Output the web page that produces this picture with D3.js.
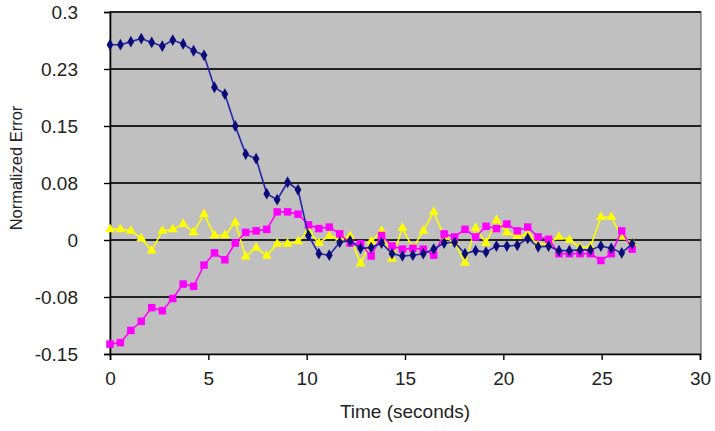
<!DOCTYPE html>
<html>
<head>
<meta charset="utf-8">
<script src="https://cdn.jsdelivr.net/npm/d3@7"></script>
<style>
  body { margin: 0; background: #fff; }
  svg { display: block; font-family: "Liberation Sans", Arial, Helvetica, sans-serif; }
</style>
</head>
<body>
<svg id="chart" width="715" height="431"></svg>
<script>
// sample times (seconds)
var times = [0, 0.53, 1.06, 1.59, 2.12, 2.66, 3.19, 3.72, 4.25, 4.78,
  5.31, 5.84, 6.37, 6.90, 7.43, 7.97, 8.50, 9.03, 9.56, 10.09,
  10.62, 11.15, 11.68, 12.21, 12.74, 13.28, 13.81, 14.34, 14.87, 15.40,
  15.93, 16.46, 16.99, 17.52, 18.05, 18.59, 19.12, 19.65, 20.18, 20.71,
  21.24, 21.77, 22.30, 22.83, 23.36, 23.90, 24.43, 24.96, 25.49, 26.02, 26.55];

// blue series (diamond markers)
var blueErr = [0.257, 0.257, 0.261, 0.265, 0.260, 0.255, 0.263, 0.258, 0.249, 0.243,
  0.201, 0.192, 0.150, 0.113, 0.107, 0.061, 0.053, 0.076, 0.066, 0.006,
  -0.018, -0.020, -0.003, -0.001, -0.011, -0.010, -0.004, -0.018, -0.021, -0.020,
  -0.018, -0.012, -0.004, -0.003, -0.018, -0.014, -0.016, -0.008, -0.008, -0.007,
  0.002, -0.009, -0.008, -0.014, -0.014, -0.013, -0.013, -0.008, -0.011, -0.017, -0.005];

// magenta series (square markers)
var pinkErr = [-0.137, -0.135, -0.119, -0.107, -0.089, -0.093, -0.077, -0.058, -0.061, -0.033,
  -0.017, -0.026, -0.004, 0.010, 0.012, 0.014, 0.037, 0.037, 0.034, 0.020,
  0.015, 0.017, 0.008, -0.004, -0.005, -0.021, 0.006, -0.008, -0.012, -0.011,
  -0.012, -0.020, 0.008, 0.004, 0.014, 0.004, 0.018, 0.015, 0.021, 0.012,
  0.017, 0.004, 0.001, -0.018, -0.018, -0.018, -0.018, -0.027, -0.018, 0.012, -0.012];

// yellow series (triangle markers)
var yellowErr = [0.014, 0.014, 0.012, 0.002, -0.014, 0.012, 0.014, 0.021, 0.010, 0.034,
  0.006, 0.006, 0.023, -0.022, -0.010, -0.021, -0.005, -0.005, -0.002, 0.012,
  -0.004, 0.005, 0.003, 0.005, -0.031, -0.002, 0.012, -0.025, 0.016, -0.011,
  0.012, 0.037, 0.004, -0.003, -0.030, 0.016, -0.004, 0.026, 0.010, 0.005,
  0.008, -0.006, -0.004, 0.004, 0.000, -0.010, -0.009, 0.030, 0.030, 0.004, -0.004];

var yTicks = [-0.15, -0.075, 0, 0.075, 0.15, 0.225, 0.3];
var yTickLabels = ["-0.15", "-0.08", "0", "0.08", "0.15", "0.23", "0.3"];
var xTicks = [0, 5, 10, 15, 20, 25, 30];

var svg = d3.select("#chart");
var plot = { left: 110, right: 701, top: 12, bottom: 354 };

var x = d3.scaleLinear().domain([0, 30]).range([plot.left, plot.right - 1]);
var y = d3.scaleLinear().domain([-0.15, 0.3]).range([plot.bottom, plot.top]);

// plot background
svg.append("rect")
    .attr("x", plot.left).attr("y", plot.top)
    .attr("width", plot.right - plot.left).attr("height", plot.bottom - plot.top)
    .attr("fill", "#c0c0c0")
    .attr("stroke", "#555").attr("stroke-width", 1);

// horizontal gridlines
svg.append("g").selectAll("line")
    .data(yTicks.slice(1))
    .join("line")
    .attr("x1", plot.left).attr("x2", plot.right)
    .attr("y1", function(d){ return y(d); })
    .attr("y2", function(d){ return y(d); })
    .attr("stroke", "#222").attr("stroke-width", 1.8);

// y axis
var yAxis = d3.axisLeft(y).tickValues(yTicks).tickSize(6).tickPadding(26)
    .tickFormat(function(d, i){ return yTickLabels[i]; });
var gy = svg.append("g").attr("transform", "translate(" + plot.left + ",0)").call(yAxis);
gy.select(".domain").attr("stroke", "#000").attr("stroke-width", 1.6);
gy.selectAll(".tick line").attr("stroke", "#000").attr("stroke-width", 1.4);
gy.selectAll("text").attr("font-size", 19).attr("fill", "#222");

// x axis
var xAxis = d3.axisBottom(x).tickValues(xTicks).tickSize(6).tickPadding(12);
var gx = svg.append("g").attr("transform", "translate(0," + plot.bottom + ")").call(xAxis);
gx.select(".domain").attr("stroke", "#000").attr("stroke-width", 1.6);
gx.selectAll(".tick line").attr("stroke", "#000").attr("stroke-width", 1.4);
gx.selectAll("text").attr("font-size", 19).attr("fill", "#222");

// axis titles
svg.append("text")
    .attr("x", x(15)).attr("y", 418)
    .attr("text-anchor", "middle").attr("font-size", 19).attr("fill", "#222")
    .text("Time (seconds)");
svg.append("text")
    .attr("transform", "translate(22,168) rotate(-90)")
    .attr("text-anchor", "middle").attr("font-size", 16.5).attr("fill", "#222")
    .text("Normalized Error");

// series
function drawSeries(values, lineColor, markColor, shape, size){
    var pts = values.map(function(v, i){ return [times[i], v]; });
    var line = d3.line()
        .x(function(d){ return x(d[0]); })
        .y(function(d){ return y(d[1]); });
    var g = svg.append("g");
    g.append("path")
        .datum(pts)
        .attr("d", line)
        .attr("fill", "none")
        .attr("stroke", lineColor)
        .attr("stroke-width", 1.6);
    g.selectAll("path.mark")
        .data(pts)
        .join("path")
        .attr("class", "mark")
        .attr("d", d3.symbol().type(shape).size(size))
        .attr("transform", function(d){ return "translate(" + x(d[0]) + "," + y(d[1]) + ")"; })
        .attr("fill", markColor);
}

drawSeries(yellowErr, "#ffff00", "#ffff00", d3.symbolTriangle, 42);
drawSeries(pinkErr, "#ff00ff", "#ff00ff", d3.symbolSquare, 56);
drawSeries(blueErr, "#2424a8", "#0c0c78", d3.symbolDiamond, 40);
</script>
</body>
</html>
